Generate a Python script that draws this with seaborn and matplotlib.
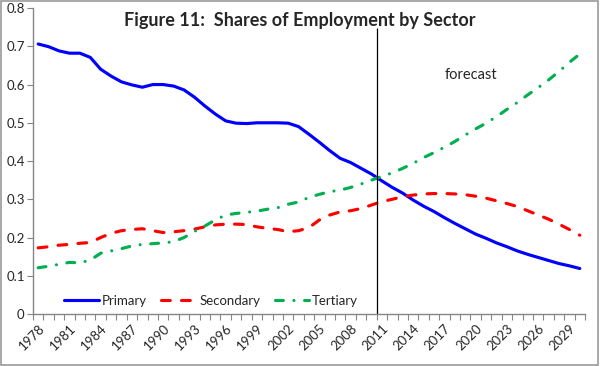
import pandas as pd
import matplotlib.pyplot as plt
import seaborn as sns
from matplotlib.patches import Rectangle

# data
years = list(range(1978, 2031))
primary = [0.706, 0.699, 0.688, 0.682, 0.682, 0.671, 0.640, 0.622, 0.607, 0.599,
           0.593, 0.600, 0.600, 0.596, 0.586, 0.567, 0.544, 0.523, 0.505, 0.499,
           0.498, 0.500, 0.500, 0.500, 0.499, 0.490, 0.470, 0.449, 0.427, 0.407,
           0.396, 0.381, 0.366, 0.348, 0.331, 0.316, 0.298, 0.282, 0.268, 0.252,
           0.237, 0.223, 0.209, 0.198, 0.186, 0.176, 0.165, 0.156, 0.148, 0.140,
           0.132, 0.126, 0.119]
secondary = [0.173, 0.176, 0.180, 0.182, 0.185, 0.187, 0.200, 0.211, 0.218, 0.221,
             0.223, 0.218, 0.213, 0.215, 0.218, 0.222, 0.228, 0.233, 0.235, 0.235,
             0.234, 0.228, 0.224, 0.221, 0.215, 0.218, 0.226, 0.246, 0.259, 0.267,
             0.270, 0.276, 0.285, 0.294, 0.300, 0.307, 0.311, 0.314, 0.315, 0.315,
             0.314, 0.312, 0.308, 0.303, 0.296, 0.289, 0.281, 0.270, 0.259, 0.248,
             0.235, 0.221, 0.206]
tertiary = [0.121, 0.125, 0.130, 0.135, 0.134, 0.141, 0.159, 0.165, 0.171, 0.178,
            0.182, 0.184, 0.186, 0.189, 0.200, 0.216, 0.230, 0.246, 0.259, 0.263,
            0.266, 0.269, 0.274, 0.278, 0.287, 0.293, 0.305, 0.313, 0.320, 0.324,
            0.331, 0.340, 0.350, 0.360, 0.369, 0.381, 0.394, 0.409, 0.422, 0.436,
            0.451, 0.468, 0.484, 0.499, 0.516, 0.535, 0.553, 0.573, 0.592, 0.612,
            0.634, 0.658, 0.680]
label_years = years[::3]
forecast_start = 2010.5

df = pd.DataFrame({"year": years, "Primary": primary,
                   "Secondary": secondary, "Tertiary": tertiary})

sns.set_theme(style="white")
plt.rcParams["font.family"] = ["Lato", "DejaVu Sans"]
grey = "#868686"

fig = plt.figure(figsize=(6, 3.66), dpi=100)
ax = fig.add_axes([0.055, 0.142, 0.92, 0.836])

styles = {
    "Primary": dict(color="#0000FF", linestyle="-"),
    "Secondary": dict(color="#FF0000", linestyle=(0, (2.8, 3.6))),
    "Tertiary": dict(color="#00B050", linestyle=(0, (2.5, 3.4, 0.01, 3.4))),
}
for name, st in styles.items():
    sns.lineplot(data=df, x="year", y=name, ax=ax, label=name, linewidth=2.25,
                 dash_capstyle="round", **st)

# forecast divider
ax.vlines(forecast_start, 0, 0.748, color="black", linewidth=0.9)
ax.text(2019.6, 0.625, "forecast", fontsize=10.5, ha="center", va="center")

ax.set_xlim(years[0] - 0.5, years[-1] + 0.5)
ax.set_ylim(0, 0.8)
ax.set_yticks([i / 10 for i in range(9)])
ax.set_yticklabels(["0"] + [f"{i / 10:.1f}" for i in range(1, 9)], fontsize=9.5)
ax.set_xticks(label_years)
ax.set_xticklabels([str(y) for y in label_years], rotation=45, ha="right",
                   rotation_mode="anchor", fontsize=9.5)
ax.set_xticks([y - 0.5 for y in years] + [years[-1] + 0.5], minor=True)
ax.tick_params(axis="x", which="major", length=0, pad=6)
ax.tick_params(axis="x", which="minor", length=4, color=grey, width=0.8, bottom=True)
ax.tick_params(axis="y", length=4, color=grey, width=0.8, left=True, pad=2)
ax.set_xlabel("")
ax.set_ylabel("")
for side in ["top", "right"]:
    ax.spines[side].set_visible(False)
for side in ["left", "bottom"]:
    ax.spines[side].set_color(grey)
    ax.spines[side].set_linewidth(1)

ax.legend(loc="lower left", bbox_to_anchor=(0.035, -0.015), ncol=3, frameon=False,
          fontsize=9.5, handlelength=2.6, handletextpad=0.25, columnspacing=1.1)

fig.text(0.5, 0.945, "Figure 11:  Shares of Employment by Sector",
         fontsize=13, fontweight="bold", ha="center", va="center")
fig.patches.append(Rectangle((0.002, 0.003), 0.995, 0.993, transform=fig.transFigure,
                             fill=False, edgecolor="#999999", linewidth=1.2))

fig.savefig("out.png", dpi=100)
